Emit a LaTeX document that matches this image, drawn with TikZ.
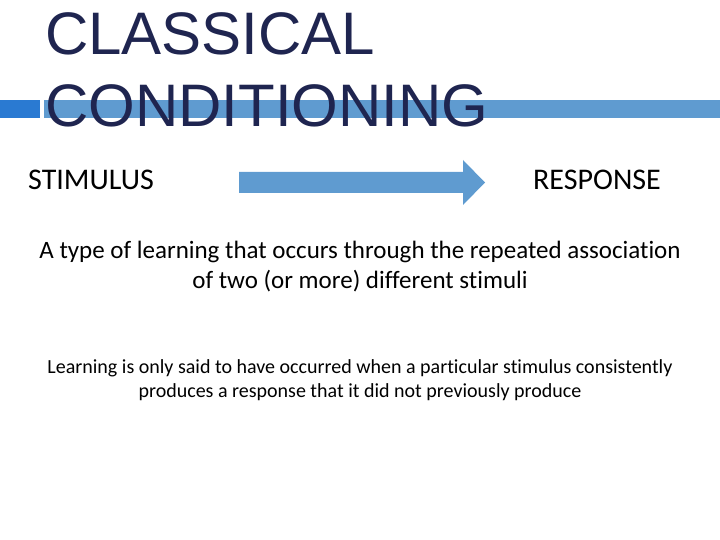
\documentclass[tikz,border=0pt]{standalone}
\usepackage{fontspec}
\setmainfont[Ligatures={NoCommon}]{Carlito}
\newfontfamily\titlefont{Liberation Sans}
\usetikzlibrary{positioning}
\definecolor{navy}{HTML}{1F2550}
\definecolor{barblue}{HTML}{5F9BD0}
\definecolor{darkblue}{HTML}{2A7AD2}
\tikzset{
  titletext/.style={anchor=base west, inner sep=0pt, text=navy, font=\titlefont\fontsize{60}{60}\selectfont},
  wordtext/.style={anchor=base west, inner sep=0pt, font=\fontsize{30}{30}\selectfont},
  bodytext/.style={inner sep=0pt, align=center}
}
\begin{document}
\begin{tikzpicture}[x=1pt, y=-1pt]
	\useasboundingbox (0,0) rectangle (720,540);
	% Bar
	\fill[darkblue] (0,100) rectangle (40,118);
	\fill[barblue] (44,100) rectangle (720,118);
	
	% Title
	\node[titletext] (t1) at (45,55) {CLASSICAL};
	\node[titletext] (t2) at (45,127) {CONDITIONING};
	
	% Stimulus and response
	\node[wordtext] (stim) at (28,190) {STIMULUS};
	\node[wordtext] (resp) at (533,190) {RESPONSE};
	
	% Arrow
	\fill[barblue] (239,172) -- (463,172) -- (463,160) -- (485,182.5) -- (463,205) -- (463,193) -- (239,193) -- cycle;
	
	% Definitions
	\node[bodytext, font=\fontsize{25}{30}\selectfont, anchor=base] (def) at (360,288)
		{A type of learning that occurs through the repeated association\\of two (or more) different stimuli};
	\node[bodytext, font=\fontsize{20}{24}\selectfont, anchor=base] (note) at (360,397)
		{Learning is only said to have occurred when a particular stimulus consistently\\produces a response that it did not previously produce};
\end{tikzpicture}
\end{document}
